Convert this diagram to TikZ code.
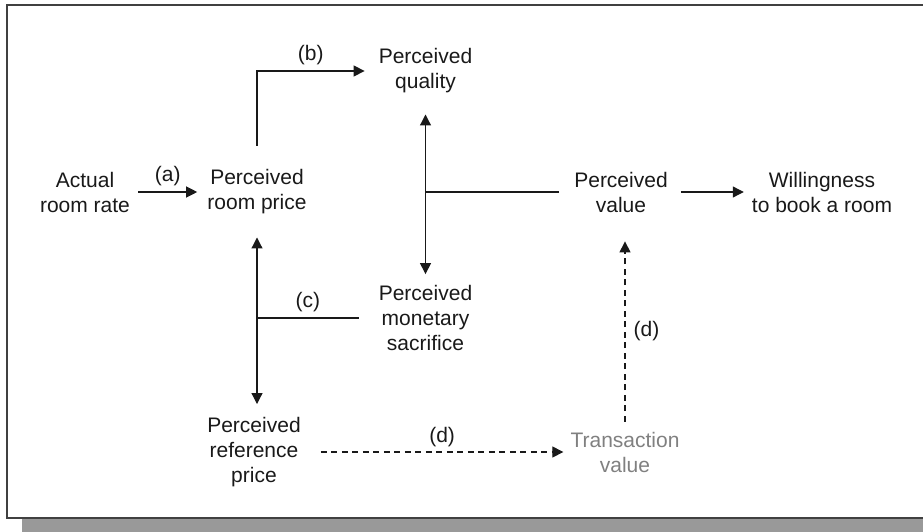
\documentclass[tikz,border=0pt]{standalone}
\usepackage{fontspec}
\setmainfont{Liberation Sans}
\usetikzlibrary{arrows.meta}

\tikzset{
    box/.style={align=center, inner sep=0pt, font=\fontsize{21}{25}\selectfont, text=black!90},
    lbl/.style={inner sep=0pt, font=\fontsize{21}{25}\selectfont, text=black!90},
    link/.style={line width=1.2pt, draw=black!90},
    arr/.style={link, -{Triangle[length=11pt,width=11pt]}},
    dblarr/.style={link, {Triangle[length=11pt,width=11pt]}-{Triangle[length=11pt,width=11pt]}},
    dasharr/.style={arr, dash pattern=on 6pt off 4.5pt},
}

\begin{document}
\begin{tikzpicture}[x=1pt, y=-1pt]
    \useasboundingbox (0,0) rectangle (923,532);

    % Frame and shadow
    \fill[black!40] (22,519) rectangle (923,532);
    \draw[line width=2pt, black!75] (930,5) -- (7,5) -- (7,518) -- (930,518);

    % Nodes
    \node[box] (actual) at (85,192) {Actual\\room rate};
    \node[box] (roomprice) at (257,192) {Perceived\\room price};
    \node[box] (quality) at (425.5,71) {Perceived\\quality};
    \node[box] (value) at (621,192) {Perceived\\value};
    \node[box] (willing) at (822,192) {Willingness\\to book a room};
    \node[box] (sacrifice) at (425.5,318) {Perceived\\monetary\\sacrifice};
    \node[box] (refprice) at (254,452) {Perceived\\reference\\price};
    \node[box, text=black!50] (transaction) at (625,452) {Transaction\\value};

    % Junction points
    \coordinate (qv) at (quality.south |- value.west);
    \coordinate (rp) at (roomprice.south |- refprice.north);
    \coordinate (cj) at (roomprice.south |- sacrifice.west);
    \coordinate (vt) at (transaction.north |- value.south);

    % Connectors
    \draw[arr] ([xshift=8pt]actual.east) -- node[lbl, above=6pt] {(a)} ([xshift=-10pt]roomprice.west);
    \draw[arr] ([yshift=24pt]roomprice.north) |- node[lbl, pos=0.75, above=6pt] {(b)} ([xshift=-14pt]quality.west);
    \draw[dblarr] ([yshift=-21pt]quality.south) -- ([yshift=11pt]sacrifice.north);
    \draw[link] ([xshift=-15pt]value.west) -- (qv);
    \draw[arr] ([xshift=13pt]value.east) -- ([xshift=-8pt]willing.west);
    \draw[dblarr] ([yshift=-23pt]roomprice.south) -- ([yshift=13pt]rp);
    \draw[link] ([xshift=-20pt]sacrifice.west) -- node[lbl, above=6pt] {(c)} (cj);
    \draw[dasharr] ([xshift=20pt]refprice.east) -- node[lbl, above=5pt] {(d)} ([xshift=-7pt]transaction.west);
    \draw[dasharr] ([yshift=10pt]transaction.north) -- node[lbl, right=8pt] {(d)} ([yshift=-29pt]vt);
\end{tikzpicture}
\end{document}
